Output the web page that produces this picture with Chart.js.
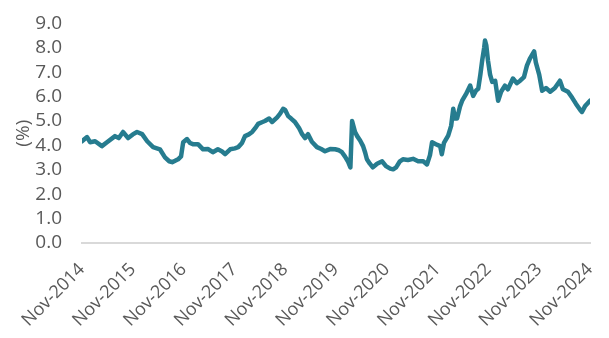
<!DOCTYPE html>
<html>
<head>
<meta charset="utf-8">
<script src="https://cdn.jsdelivr.net/npm/chart.js@4/dist/chart.umd.min.js"></script>
<style>
html,body{margin:0;padding:0;background:#fff;}
#wrap{width:609px;height:338px;}
</style>
</head>
<body>
<div id="wrap"><canvas id="c" width="609" height="338"></canvas></div>
<script>
// months elapsed since Nov-2014
const monthIdx = [0,1.2,1.9,3.1,4.7,5.9,7.8,8.7,9.7,10.9,12.0,13.0,14.2,15.4,16.8,18.4,19.6,20.6,21.3,22.7,23.4,23.9,24.8,25.5,26.2,27.4,28.6,29.8,30.9,32.1,33.1,33.8,35.0,36.1,36.9,37.8,38.5,39.4,40.2,41.1,41.6,42.5,43.2,44.2,44.9,46.1,46.8,47.5,48.0,48.7,49.4,50.3,51.3,52.0,52.7,53.4,54.3,55.5,56.5,57.4,58.6,59.8,60.7,61.4,62.1,62.8,63.4,63.8,64.5,65.0,65.7,66.4,66.9,67.3,68.0,68.7,69.7,70.9,71.8,72.8,73.5,74.2,75.1,75.8,77.0,78.2,79.4,80.6,81.5,82.2,82.7,83.6,84.6,85.0,85.5,86.5,87.2,87.7,88.1,88.6,89.3,89.8,90.7,91.7,92.4,93.1,93.6,94.1,94.5,95.0,95.2,95.5,95.9,96.4,96.9,97.6,98.3,99.0,99.9,100.6,101.8,102.7,103.5,104.4,105.1,105.8,106.8,107.2,108.0,108.7,109.6,110.6,111.7,112.9,113.6,114.8,115.8,116.7,117.7,118.1,118.8,120.0];
const yieldPct = [4.17,4.34,4.13,4.17,3.97,4.13,4.38,4.3,4.55,4.3,4.45,4.55,4.46,4.17,3.93,3.84,3.51,3.35,3.31,3.43,3.55,4.13,4.26,4.1,4.05,4.05,3.84,3.85,3.72,3.84,3.75,3.64,3.84,3.88,3.93,4.1,4.38,4.45,4.55,4.75,4.88,4.95,5.0,5.1,4.96,5.15,5.3,5.5,5.45,5.2,5.1,4.96,4.7,4.46,4.3,4.46,4.15,3.93,3.85,3.76,3.85,3.84,3.8,3.72,3.55,3.35,3.1,5.0,4.55,4.38,4.2,3.97,3.7,3.43,3.25,3.1,3.25,3.35,3.15,3.05,3.02,3.1,3.35,3.43,3.4,3.45,3.35,3.35,3.22,3.6,4.13,4.05,3.97,3.64,4.1,4.4,4.8,5.5,5.1,5.1,5.6,5.83,6.1,6.45,6.03,6.25,6.32,6.9,7.44,8.0,8.3,8.1,7.48,6.9,6.6,6.65,5.83,6.2,6.45,6.3,6.74,6.55,6.65,6.8,7.27,7.56,7.85,7.4,6.9,6.24,6.35,6.2,6.35,6.65,6.3,6.2,5.95,5.7,5.45,5.37,5.6,5.83];
const tickLabels = ['Nov-2014','Nov-2015','Nov-2016','Nov-2017','Nov-2018','Nov-2019','Nov-2020','Nov-2021','Nov-2022','Nov-2023','Nov-2024'];
const yTicks = [0,1,2,3,4,5,6,7,8,9];

const pts = monthIdx.map((m,i)=>({x:m,y:yieldPct[i]}));
const FONT = "'Open Sans', sans-serif";
const GREY = '#595959';

new Chart(document.getElementById('c'), {
  type: 'line',
  data: { datasets: [{
    data: pts,
    borderColor: '#267C8F',
    borderWidth: 4.5,
    pointRadius: 0,
    tension: 0,
    borderJoinStyle: 'round',
    borderCapStyle: 'round'
  }]},
  options: {
    responsive: false,
    animation: false,
    layout: { padding: { top: 21.6, right: 19, left: 0, bottom: 0 } },
    plugins: { legend: { display: false }, tooltip: { enabled: false } },
    scales: {
      x: {
        type: 'linear', min: 0, max: 120,
        afterBuildTicks: s => { s.ticks = tickLabels.map((_,i)=>({value:i*12})); },
        ticks: {
          callback: (v) => tickLabels[Math.round(v/12)],
          maxRotation: 45, minRotation: 45, autoSkip: false,
          color: GREY, font: { family: FONT, size: 18 }, padding: 8
        },
        grid: { display: false },
        border: { display: true, color: '#d9d9d9', width: 2 },
        afterFit: s => { s.height = 95; s.paddingLeft = 0; s.paddingRight = 0; }
      },
      y: {
        min: 0, max: 9,
        afterBuildTicks: s => { s.ticks = yTicks.map(v=>({value:v})); },
        ticks: {
          callback: v => v.toFixed(1),
          autoSkip: false,
          color: GREY, font: { family: FONT, size: 19 }, padding: 12
        },
        title: { display: true, text: '(%)', color: GREY, font: { family: FONT, size: 19 }, padding: { top: 12, bottom: 0 } },
        grid: { display: false },
        border: { display: false },
        afterFit: s => { s.width = 82; }
      }
    }
  }
});
</script>
</body>
</html>
